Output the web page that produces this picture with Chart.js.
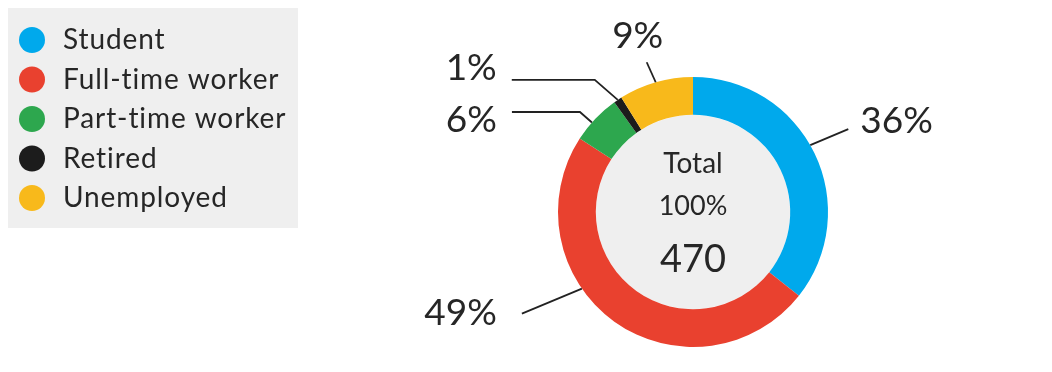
<!DOCTYPE html>
<html lang="en">
<head>
    <meta charset="UTF-8">
    <title>Respondents by occupation</title>
    <script src="https://cdn.jsdelivr.net/npm/chart.js"></script>
    <style>
        html, body {
            margin: 0;
            padding: 0;
            background: #ffffff;
        }
        #chart-container {
            width: 1052px;
            height: 372px;
        }
    </style>
</head>
<body>
    <div id="chart-container">
        <canvas id="occupationChart"></canvas>
    </div>

    <script>
        // Share of respondents per occupation (percent)
        const categories = ['Student', 'Full-time worker', 'Part-time worker', 'Retired', 'Unemployed'];
        const shares = [36, 49, 6, 1, 9];
        const colors = ['#00a9ec', '#e9412f', '#2da74e', '#1c1c1c', '#f8b91b'];
        const totalCount = 470;
        const centerLines = ['Total', '100%', String(totalCount)];

        const FONT = 'Lato, "Open Sans", sans-serif';
        const INK = '#262626';

        // Callout for each slice: where on the arc the leader starts (0..1),
        // then offsets from that point for the elbow, line end and label.
        const callouts = [
            { t: 0.47, path: [[38, -16]], text: [50, -12], align: 'left' },
            { t: 0.613, path: [[-60, 25]], text: [-85, 36], align: 'right' },
            { t: 0.40, path: [[-12, -10.5], [-80, -10.5]], text: [-95, 9.5], align: 'right' },
            { t: 0.50, path: [[-23, -20], [-106, -20]], text: [-121, -20], align: 'right' },
            { t: 0.50, path: [[-9, -20]], text: [-18, -34], align: 'center' }
        ];

        // Light grey disc inside the ring
        const innerDisc = {
            id: 'innerDisc',
            beforeDatasetsDraw(chart) {
                const arc = chart.getDatasetMeta(0).data[0];
                const ctx = chart.ctx;
                ctx.save();
                ctx.fillStyle = '#efefef';
                ctx.beginPath();
                ctx.arc(arc.x, arc.y, arc.innerRadius, 0, Math.PI * 2);
                ctx.fill();
                ctx.restore();
            }
        };

        // Total in the middle of the ring
        const centerText = {
            id: 'centerText',
            afterDatasetsDraw(chart) {
                const arc = chart.getDatasetMeta(0).data[0];
                const ctx = chart.ctx;
                ctx.save();
                ctx.fillStyle = INK;
                ctx.textAlign = 'center';
                ctx.textBaseline = 'alphabetic';
                ctx.font = '28px ' + FONT;
                ctx.fillText(centerLines[0], arc.x, arc.y - 39);
                ctx.font = '27px ' + FONT;
                ctx.fillText(centerLines[1], arc.x, arc.y + 3);
                ctx.font = '38px ' + FONT;
                ctx.fillText(centerLines[2], arc.x, arc.y + 60);
                ctx.restore();
            }
        };

        // Leader lines and percentage labels around the ring
        const sliceLabels = {
            id: 'sliceLabels',
            afterDatasetsDraw(chart) {
                const ctx = chart.ctx;
                const meta = chart.getDatasetMeta(0);
                ctx.save();
                ctx.strokeStyle = '#222222';
                ctx.lineWidth = 1.8;
                ctx.fillStyle = INK;
                ctx.font = '37px ' + FONT;
                ctx.textBaseline = 'alphabetic';
                meta.data.forEach((arc, i) => {
                    const c = callouts[i];
                    const a = arc.startAngle + c.t * (arc.endAngle - arc.startAngle);
                    const x0 = arc.x + Math.cos(a) * arc.outerRadius;
                    const y0 = arc.y + Math.sin(a) * arc.outerRadius;
                    ctx.beginPath();
                    ctx.moveTo(x0, y0);
                    c.path.forEach(p => ctx.lineTo(x0 + p[0], y0 + p[1]));
                    ctx.stroke();
                    ctx.textAlign = c.align;
                    ctx.fillText(shares[i] + '%', x0 + c.text[0], y0 + c.text[1]);
                });
                ctx.restore();
            }
        };

        // Legend drawn in a grey panel at the top left
        const legendPanel = {
            id: 'legendPanel',
            afterDraw(chart) {
                const ctx = chart.ctx;
                const ds = chart.data.datasets[0];
                ctx.save();
                ctx.fillStyle = '#efefef';
                ctx.fillRect(8, 8, 290, 220);
                ctx.font = '28px ' + FONT;
                ctx.letterSpacing = '0.9px';
                ctx.textAlign = 'left';
                ctx.textBaseline = 'alphabetic';
                chart.data.labels.forEach((label, i) => {
                    const cy = 40 + i * 39.5;
                    ctx.fillStyle = ds.backgroundColor[i];
                    ctx.beginPath();
                    ctx.arc(32, cy, 13, 0, Math.PI * 2);
                    ctx.fill();
                    ctx.fillStyle = INK;
                    ctx.fillText(label, 63, cy + 9);
                });
                ctx.restore();
            }
        };

        new Chart(document.getElementById('occupationChart'), {
            type: 'doughnut',
            data: {
                labels: categories,
                datasets: [{
                    data: shares,
                    backgroundColor: colors,
                    borderWidth: 0
                }]
            },
            options: {
                responsive: true,
                maintainAspectRatio: false,
                animation: false,
                cutout: '72%',
                layout: {
                    padding: { left: 558, right: 224, top: 77, bottom: 25 }
                },
                plugins: {
                    legend: { display: false },
                    tooltip: { enabled: false }
                }
            },
            plugins: [innerDisc, centerText, sliceLabels, legendPanel]
        });
    </script>
</body>
</html>
